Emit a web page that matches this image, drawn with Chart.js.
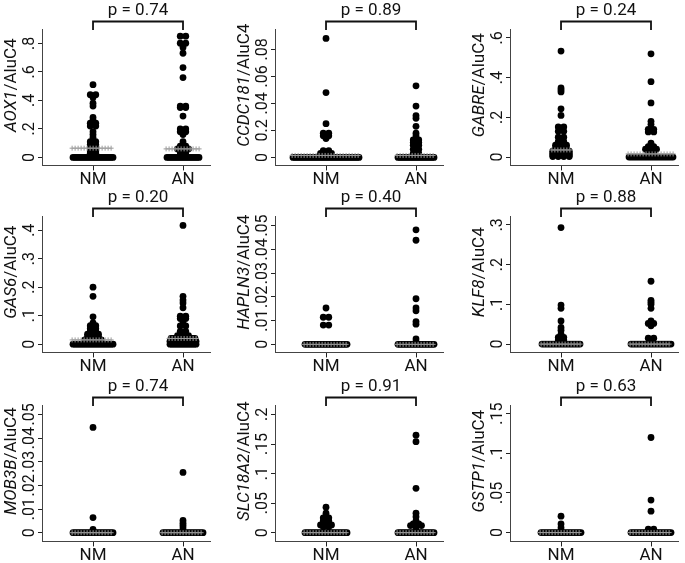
<!DOCTYPE html>
<html>
<head>
<meta charset="utf-8">
<script src="https://cdn.jsdelivr.net/npm/chart.js@4.4.0/dist/chart.umd.min.js"></script>
<style>
  html, body { margin: 0; padding: 0; background: #fff; overflow: hidden; }
  #wrap { position: relative; width: 685px; height: 563px; overflow: hidden; }
  #wrap canvas { position: absolute; }
</style>
</head>
<body>
<div id="wrap"></div>
<script>
const genes = ['AOX1', 'CCDC181', 'GABRE', 'GAS6', 'HAPLN3', 'KLF8', 'MOB3B', 'SLC18A2', 'GSTP1'];
const groups = ['NM', 'AN'];
const pValues = ['0.74', '0.89', '0.24', '0.20', '0.40', '0.88', '0.74', '0.91', '0.63'];

const yTickValues = [
    [0, .2, .4, .6, .8],
    [0, .02, .04, .06, .08],
    [0, .2, .4, .6],
    [0, .1, .2, .3, .4],
    [0, .01, .02, .03, .04, .05],
    [0, .1, .2, .3],
    [0, .01, .02, .03, .04, .05],
    [0, .05, .1, .15, .2],
    [0, .05, .1, .15]
];
const yTickLabels = [
    ['0', '.2', '.4', '.6', '.8'],
    ['0', '0.2', '.04', '.06', '.08'],
    ['0', '.2', '.4', '.6'],
    ['0', '.1', '.2', '.3', '.4'],
    ['0', '.01', '.02', '.03', '.04', '.05'],
    ['0', '.1', '.2', '.3'],
    ['0', '.01', '.02', '.03', '.04', '.05'],
    ['0', '.05', '.1', '.15', '.2'],
    ['0', '.05', '.1', '.15']
];
const yRanges = [
    [-0.056, 0.9], [-0.0059, 0.095], [-0.042, 0.645],
    [-0.029, 0.45], [-0.0034, 0.054], [-0.021, 0.322],
    [-0.0037, 0.054], [-0.0149, 0.216], [-0.0112, 0.161]
];

const nmValues = [
    [0.51, 0.44, 0.42, 0.38, 0.36, 0.28, 0.26, 0.24, 0.22, 0.18, 0.16, 0.14, 0.11, 0.09, 0.07, 0.045, 0.03, 0],
    [0.088, 0.048, 0.025, 0.018, 0.016, 0.014, 0.005, 0.003, 0],
    [0.534, 0.348, 0.338, 0.328, 0.243, 0.21, 0.152, 0.13, 0.1, 0.078, 0.06, 0.044, 0.03, 0.02, 0.01, 0.003],
    [0.2, 0.168, 0.096, 0.075, 0.065, 0.055, 0.045, 0.035, 0.025, 0.015, 0.008, 0],
    [0.0153, 0.0114, 0.0081, 0],
    [0.293, 0.098, 0.09, 0.058, 0.042, 0.035, 0.025, 0.017, 0.01, 0],
    [0.0445, 0.0064, 0.0014, 0],
    [0.043, 0.033, 0.028, 0.025, 0.02, 0.0165, 0.013, 0.01, 0],
    [0.0207, 0.0108, 0.0062, 0]
];
const nmCounts = [
    [1, 2, 1, 1, 1, 1, 1, 2, 2, 1, 1, 1, 2, 2, 2, 2, 2, 21],
    [1, 1, 1, 2, 2, 1, 2, 3, 34],
    [1, 1, 1, 1, 1, 1, 2, 2, 2, 2, 3, 3, 4, 4, 4, 4],
    [1, 1, 1, 1, 2, 2, 2, 3, 3, 4, 8, 21],
    [1, 2, 2, 22],
    [1, 1, 1, 1, 1, 1, 1, 2, 2, 20],
    [1, 1, 1, 21],
    [1, 1, 1, 2, 2, 2, 3, 2, 22],
    [1, 1, 1, 21]
];
const anValues = [
    [0.85, 0.8, 0.77, 0.73, 0.63, 0.56, 0.36, 0.35, 0.29, 0.2, 0.18, 0.16, 0.11, 0.08, 0.06, 0.04, 0.02, 0],
    [0.053, 0.038, 0.031, 0.029, 0.023, 0.018, 0.016, 0.013, 0.011, 0.009, 0.006, 0.003, 0],
    [0.52, 0.38, 0.273, 0.18, 0.165, 0.14, 0.127, 0.07, 0.053, 0.04, 0.02, 0],
    [0.417, 0.168, 0.155, 0.145, 0.128, 0.098, 0.09, 0.075, 0.064, 0.045, 0.03, 0.02, 0.01, 0],
    [0.0482, 0.0438, 0.0192, 0.0153, 0.0141, 0.0096, 0.0085, 0.0023, 0.001, 0],
    [0.158, 0.11, 0.105, 0.1, 0.09, 0.058, 0.052, 0.046, 0.015, 0.01, 0],
    [0.0255, 0.0052, 0.004, 0.003, 0.002, 0],
    [0.165, 0.154, 0.075, 0.033, 0.027, 0.02, 0.015, 0.012, 0.008, 0.003, 0],
    [0.12, 0.041, 0.027, 0.0042, 0]
];
const anCounts = [
    [2, 2, 1, 1, 1, 1, 2, 2, 1, 2, 2, 1, 1, 2, 3, 2, 2, 17],
    [1, 1, 1, 1, 1, 1, 1, 2, 2, 2, 2, 2, 19],
    [1, 1, 1, 1, 1, 2, 2, 1, 2, 3, 2, 23],
    [1, 1, 1, 1, 1, 2, 2, 1, 2, 2, 3, 13, 14, 14],
    [1, 1, 1, 1, 1, 1, 1, 1, 1, 19],
    [1, 1, 1, 1, 1, 1, 2, 1, 2, 1, 21],
    [1, 1, 1, 1, 1, 21],
    [1, 1, 1, 1, 1, 1, 2, 3, 1, 1, 19],
    [1, 1, 1, 2, 21]
];
// centre line (grey crosses) of each group
const nmCenter = [0.065, 0.0015, 0.036, 0.015, 0, 0, 0, 0, 0];
const anCenter = [0.06, 0.0015, 0.016, 0.02, 0, 0, 0, 0, 0];

const FONT = 'Roboto, "Open Sans", sans-serif';
const PX_PER_UNIT = 90;   // horizontal pixels per category step
const DOT = 6.8;

function rowStep(n) {
    return n <= 4 ? 5.5 : 2;
}

// spread the dots of each value sideways round the category
function swarm(values, counts, x0) {
    const pts = [];
    values.forEach((v, i) => {
        const n = counts[i];
        const step = rowStep(n) / PX_PER_UNIT;
        for (let k = 0; k < n; k++) {
            pts.push({x: x0 + (k - (n - 1) / 2) * step, y: v});
        }
    });
    return pts;
}

function centerLine(counts, value, x0) {
    let w = 0;
    counts.forEach(n => { w = Math.max(w, (n - 1) * rowStep(n) + DOT); });
    const half = (w / 2 - 2.5) / PX_PER_UNIT;
    const pts = [];
    for (let d = -half; d <= half + 1e-9; d += 3 / PX_PER_UNIT) {
        pts.push({x: x0 + d, y: value});
    }
    return pts;
}

const panelDecor = {
    id: 'panelDecor',
    afterDraw(chart) {
        const i = chart.options.plugins.panelDecor.index;
        const {ctx, chartArea} = chart;
        const x = chart.scales.x, y = chart.scales.y;
        ctx.save();
        ctx.fillStyle = '#111';
        ctx.textBaseline = 'middle';

        // y tick labels, turned to read upwards
        ctx.font = '16px ' + FONT;
        ctx.textAlign = 'center';
        yTickValues[i].forEach((v, k) => {
            ctx.save();
            ctx.translate(chartArea.left - 12, y.getPixelForValue(v));
            ctx.rotate(-Math.PI / 2);
            ctx.fillText(yTickLabels[i][k], 0, 0);
            ctx.restore();
        });

        // y title: italic gene name + /AluC4
        const italic = 'italic 17px ' + FONT, plain = '17px ' + FONT;
        ctx.font = italic;
        const w1 = ctx.measureText(genes[i]).width;
        ctx.font = plain;
        const w2 = ctx.measureText('/AluC4').width;
        ctx.save();
        ctx.translate(chartArea.left - 30, (chartArea.top + chartArea.bottom) / 2 - 12);
        ctx.rotate(-Math.PI / 2);
        ctx.textAlign = 'left';
        ctx.font = italic;
        ctx.fillText(genes[i], -(w1 + w2) / 2, 0);
        ctx.font = plain;
        ctx.fillText('/AluC4', -(w1 + w2) / 2 + w1, 0);
        ctx.restore();

        // bracket with p value
        const x1 = x.getPixelForValue(1), x2 = x.getPixelForValue(2);
        const top = 21.5, legs = 30;
        ctx.strokeStyle = '#111';
        ctx.lineWidth = 1.8;
        ctx.beginPath();
        ctx.moveTo(x1, legs);
        ctx.lineTo(x1, top);
        ctx.lineTo(x2, top);
        ctx.lineTo(x2, legs);
        ctx.stroke();
        ctx.font = '17px ' + FONT;
        ctx.textAlign = 'center';
        ctx.fillText('p = ' + pValues[i], (x1 + x2) / 2, top - 11);
        ctx.restore();
    }
};

const colLeft = [0, 233, 468];
const rowTop = [0, 187, 376];
const wrap = document.getElementById('wrap');

genes.forEach((gene, i) => {
    const canvas = document.createElement('canvas');
    canvas.width = 225;
    canvas.height = 194;
    canvas.style.left = colLeft[i % 3] + 'px';
    canvas.style.top = rowTop[Math.floor(i / 3)] + 'px';
    wrap.appendChild(canvas);

    new Chart(canvas.getContext('2d'), {
        type: 'scatter',
        data: {
            datasets: [
                {
                    data: centerLine(nmCounts[i], nmCenter[i], 1).concat(centerLine(anCounts[i], anCenter[i], 2)),
                    pointStyle: 'cross',
                    pointRadius: 2.5,
                    borderColor: '#9a9a9a',
                    pointBorderWidth: 1,
                    order: 0
                },
                {
                    data: swarm(nmValues[i], nmCounts[i], 1).concat(swarm(anValues[i], anCounts[i], 2)),
                    pointRadius: DOT / 2,
                    backgroundColor: '#000',
                    borderWidth: 0,
                    order: 1
                }
            ]
        },
        options: {
            responsive: false,
            animation: false,
            devicePixelRatio: 1,
            events: [],
            layout: {
                padding: {left: 38, right: 15, top: 29, bottom: 4}
            },
            scales: {
                x: {
                    type: 'linear',
                    min: 0.433,
                    max: 2.3,
                    afterBuildTicks: axis => { axis.ticks = [{value: 1}, {value: 2}]; },
                    ticks: {
                        callback: v => groups[v - 1] || '',
                        autoSkip: false,
                        maxRotation: 0,
                        padding: 0,
                        color: '#111',
                        font: {family: FONT, size: 17, lineHeight: 1.15}
                    },
                    grid: {drawOnChartArea: false, drawTicks: true, tickLength: 5, color: '#222'},
                    border: {color: '#444', width: 1}
                },
                y: {
                    type: 'linear',
                    min: yRanges[i][0],
                    max: yRanges[i][1],
                    afterBuildTicks: axis => { axis.ticks = yTickValues[i].map(v => ({value: v})); },
                    ticks: {display: false},
                    grid: {drawOnChartArea: false, drawTicks: true, tickLength: 4, color: '#222'},
                    border: {color: '#444', width: 1}
                }
            },
            plugins: {
                legend: {display: false},
                tooltip: {enabled: false},
                panelDecor: {index: i}
            }
        },
        plugins: [panelDecor]
    });
});
</script>
</body>
</html>
